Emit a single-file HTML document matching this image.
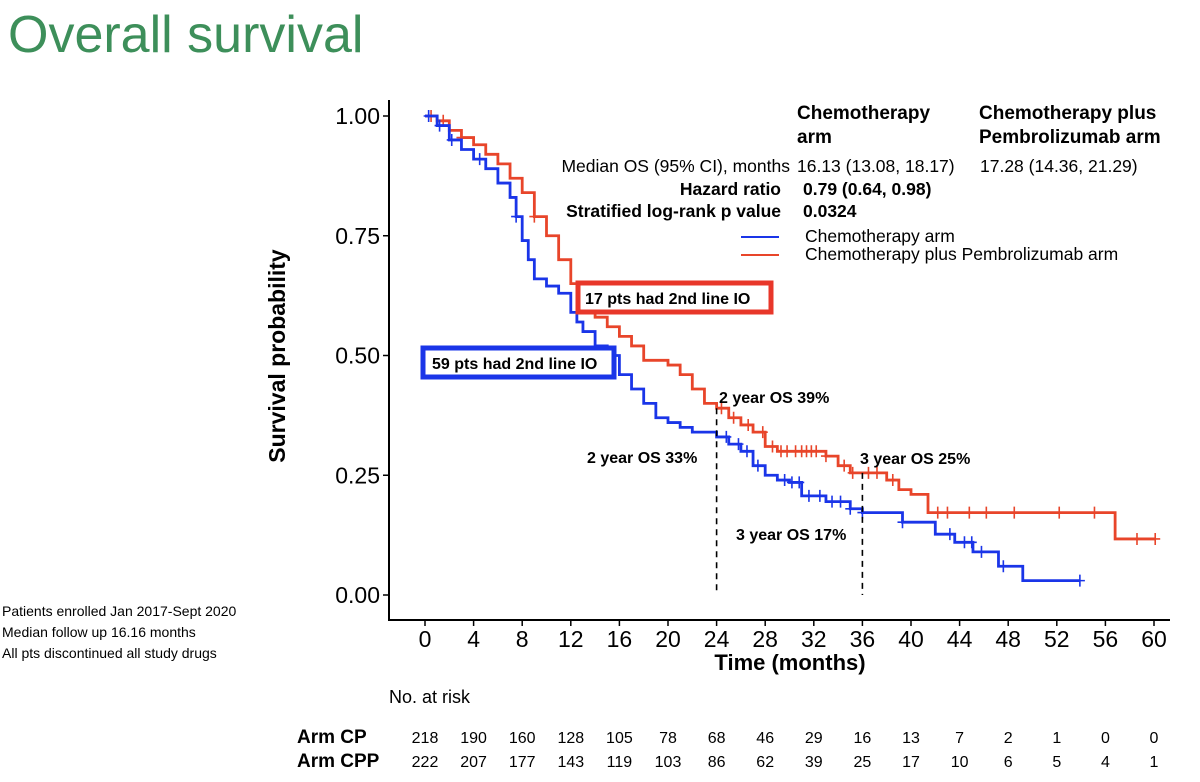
<!DOCTYPE html>
<html><head><meta charset="utf-8"><style>
body{margin:0;background:#fff;width:1200px;height:777px;overflow:hidden;font-family:"Liberation Sans",sans-serif;}
</style></head><body>
<svg width="1200" height="777" viewBox="0 0 1200 777" xmlns="http://www.w3.org/2000/svg" font-family="Liberation Sans, sans-serif">
<text x="8" y="52" font-size="52" fill="#3d8f5a" font-family="Liberation Sans, sans-serif">Overall survival</text>
<g font-size="14" fill="#000">
<text x="2" y="616">Patients enrolled Jan 2017-Sept 2020</text>
<text x="2" y="637">Median follow up 16.16 months</text>
<text x="2" y="658">All pts discontinued all study drugs</text>
</g>
<g id="axes"></g>
<g id="curves"></g>
<g><line id="v24" stroke="#000" stroke-width="1.6" stroke-dasharray="6,5"/></g>
<g><line id="v36" stroke="#000" stroke-width="1.6" stroke-dasharray="6,5"/></g>
<g font-weight="bold" font-size="16" fill="#000">
<text x="587" y="463">2 year OS 33%</text>
<text x="719" y="403">2 year OS 39%</text>
<text x="860" y="464">3 year OS 25%</text>
<text x="736" y="540">3 year OS 17%</text>
</g>
<g>
<rect x="578" y="283" width="193" height="29" fill="#fff" stroke="#e8372a" stroke-width="5"/>
<text x="585" y="304" font-size="16" font-weight="bold">17 pts had 2nd line IO</text>
</g>
<g>
<rect x="423" y="348" width="191" height="29" fill="#fff" stroke="#1a35e8" stroke-width="5"/>
<text x="432" y="369" font-size="16" font-weight="bold">59 pts had 2nd line IO</text>
</g>
<g fill="#000">
<text x="797" y="119" font-size="19" font-weight="bold">Chemotherapy</text>
<text x="797" y="143" font-size="19" font-weight="bold">arm</text>
<text x="979" y="119" font-size="19" font-weight="bold">Chemotherapy plus</text>
<text x="979" y="143" font-size="19" font-weight="bold">Pembrolizumab arm</text>
<text x="790" y="172" font-size="17.5" text-anchor="end">Median OS (95% CI), months</text>
<text x="797" y="172" font-size="17.5">16.13 (13.08, 18.17)</text>
<text x="980" y="172" font-size="17.5">17.28 (14.36, 21.29)</text>
<text x="781" y="195" font-size="17.5" font-weight="bold" text-anchor="end">Hazard ratio</text>
<text x="803" y="195" font-size="17.5" font-weight="bold">0.79 (0.64, 0.98)</text>
<text x="781" y="217" font-size="17.5" font-weight="bold" text-anchor="end">Stratified log-rank p value</text>
<text x="803" y="217" font-size="17.5" font-weight="bold">0.0324</text>
</g>
<g>
<line x1="741" y1="237" x2="779" y2="237" stroke="#1a35e8" stroke-width="2"/>
<text x="805" y="242" font-size="17.5">Chemotherapy arm</text>
<line x1="741" y1="255" x2="779" y2="255" stroke="#e8452a" stroke-width="2"/>
<text x="805" y="260" font-size="17.5">Chemotherapy plus Pembrolizumab arm</text>
</g>
<text x="389" y="703" font-size="18">No. at risk</text>
<g id="risk" font-size="16"></g>
</svg>
<script>
const xTicks=[0,4,8,12,16,20,24,28,32,36,40,44,48,52,56,60];
const yTicks=[0,0.25,0.5,0.75,1];
const yTickLabels=["0.00","0.25","0.50","0.75","1.00"];
const blueT=[0,1,2,3,4,5,6,7,7.5,8,8.5,9,10,11,12,12.5,13,14,15,16,17,18,19,20,21,22,24,25,26,27,28,29,30,31,33,35,36,39.3,42,43.6,45.1,47.2,49.2];
const blueS=[1,0.98,0.95,0.93,0.91,0.89,0.86,0.83,0.79,0.74,0.70,0.66,0.645,0.63,0.59,0.57,0.55,0.52,0.50,0.46,0.43,0.40,0.37,0.36,0.35,0.34,0.33,0.315,0.30,0.27,0.25,0.24,0.235,0.207,0.195,0.18,0.172,0.152,0.127,0.11,0.09,0.06,0.03];
const blueEnd=53.9;
const redT=[0,1,2,3,4,5,6,7,8,9,10,11,12,13,14,15,16,17,18,20,21,22,23,24,25,26,27,28,29,33,34,35,38,39,40,41.4,56.8];
const redS=[1,0.99,0.97,0.955,0.94,0.92,0.90,0.87,0.84,0.79,0.75,0.70,0.65,0.61,0.58,0.56,0.54,0.52,0.49,0.48,0.46,0.43,0.40,0.39,0.37,0.355,0.34,0.31,0.30,0.29,0.27,0.255,0.24,0.22,0.21,0.172,0.117];
const redEnd=60.1;
const blueCens=[0.3,1.2,2.2,4.5,7.5,24.8,25.8,26.5,27.4,29.6,30.2,30.8,31.6,32.5,33.5,34.2,35,36,39.3,43.2,44.4,45,45.8,47.6,53.9];
const redCens=[0.5,1.5,3,9,24.4,25.4,26.6,27.8,28.6,29.3,29.8,30.5,31,31.4,31.8,32.2,33,34.5,35.2,36.5,37.2,38.5,42.2,43,44.8,46.2,48.5,52.2,55.1,58.6,60.1];
const armLabels=["Arm CP","Arm CPP"];
const riskCP=[218,190,160,128,105,78,68,46,29,16,13,7,2,1,0,0];
const riskCPP=[222,207,177,143,119,103,86,62,39,25,17,10,6,5,4,1];
const NS="http://www.w3.org/2000/svg";
const X=t=>425+t*12.15, Y=s=>595-s*479;
function mk(tag,attrs,parent){const e=document.createElementNS(NS,tag);for(const k in attrs)e.setAttribute(k,attrs[k]);parent.appendChild(e);return e;}
const axes=document.getElementById('axes');
const ax=mk('path',{d:'M389,100 V620 H1170',fill:'none',stroke:'#000','stroke-width':2},axes);


xTicks.forEach(t=>{
 mk('line',{x1:X(t),x2:X(t),y1:620,y2:626,stroke:'#000','stroke-width':1.5},axes);
 const tx=mk('text',{x:X(t),y:647,'font-size':23,'text-anchor':'middle'},axes);tx.textContent=t;
 
 
});
yTicks.forEach((v,i)=>{
 mk('line',{x1:383,x2:389,y1:Y(v),y2:Y(v),stroke:'#000','stroke-width':1.5},axes);
 const tx=mk('text',{x:380,y:Y(v)+8,'font-size':23,'text-anchor':'end'},axes);tx.textContent=yTickLabels[i];
 
 
});
const xt=mk('text',{x:790,y:670,'font-size':22,'font-weight':'bold','text-anchor':'middle'},axes);xt.textContent='Time (months)';


const yt=mk('text',{x:0,y:0,'font-size':23,'font-weight':'bold','text-anchor':'middle',transform:'translate(285,356) rotate(-90)'},axes);yt.textContent='Survival probability';


const v24=document.getElementById('v24');
v24.setAttribute('x1',X(24));v24.setAttribute('x2',X(24));v24.setAttribute('y1',Y(0.39));v24.setAttribute('y2',Y(0));
const v36=document.getElementById('v36');
v36.setAttribute('x1',X(36));v36.setAttribute('x2',X(36));v36.setAttribute('y1',Y(0.255));v36.setAttribute('y2',Y(0));
function survAt(T,S,t){let s=S[0];for(let i=0;i<T.length;i++){if(T[i]<=t)s=S[i];}return s;}
const curves=document.getElementById('curves');
function drawCurve(T,S,end,cens,color,name){
 let d='M'+X(T[0])+','+Y(S[0]);
 for(let i=1;i<T.length;i++){d+=' H'+X(T[i])+' V'+Y(S[i]);}
 d+=' H'+X(end);
 const p=mk('path',{d:d,fill:'none',stroke:color,'stroke-width':2.8},curves);
 
 
 cens.forEach(t=>{const x=X(t),y=Y(survAt(T,S,t));
  const c=mk('path',{d:'M'+(x-5)+','+y+' H'+(x+5)+' M'+x+','+(y-6)+' V'+(y+6),stroke:color,'stroke-width':1.6},curves);
  
  
 });
}
drawCurve(redT,redS,redEnd,redCens,'#e8452a','pembrolizumab-curve');
drawCurve(blueT,blueS,blueEnd,blueCens,'#1a35e8','chemotherapy-curve');
const risk=document.getElementById('risk');
[riskCP,riskCPP].forEach((row,r)=>{
 const y=743+r*24;
 const l=mk('text',{x:297,y:y,'font-size':19,'font-weight':'bold'},risk);l.textContent=armLabels[r];
 
 
 row.forEach((v,i)=>{const t=mk('text',{x:X(xTicks[i]),y:y,'text-anchor':'middle'},risk);t.textContent=v;
  
  });
});
</script>
</body></html>
